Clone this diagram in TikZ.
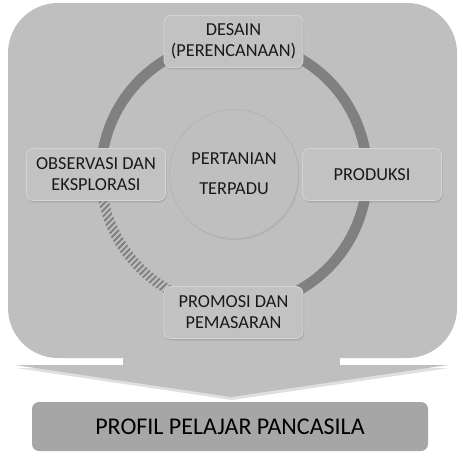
\documentclass[tikz,border=0pt]{standalone}
\usepackage{fontspec}
\setmainfont{Carlito}
\usepackage{tikz}
\usetikzlibrary{shapes,calc,shadows,patterns.meta}
\usepackage{xcolor}
\definecolor{panelgray}{HTML}{BFBFBF}
\definecolor{ringgray}{HTML}{808080}
\definecolor{boxgray}{HTML}{C2C2C2}
\definecolor{boxedge}{HTML}{D4D4D4}
\definecolor{bargray}{HTML}{A6A6A6}

\begin{document}
\begin{tikzpicture}[x=1pt,y=1pt,
	  every node/.style={align=center,text=black!90},
	  panel/.style={fill=panelgray,draw=none},
	  ring/.style={draw=ringgray,line width=10.5pt},
	  hatchring/.style={pattern={Lines[angle=45,distance=4.2pt,line width=1.9pt]},pattern color=ringgray},
	  stage/.style={rectangle,rounded corners=7pt,fill=boxgray,draw=boxedge,line width=0.8pt,
	    minimum width=139pt,minimum height=52pt,inner sep=2pt,font=\fontsize{18.3}{21}\selectfont,
	    drop shadow={shadow xshift=1pt,shadow yshift=-2pt,opacity=0.3}},
	  hub/.style={circle,fill=panelgray,draw=black!30,line width=0.6pt,minimum size=129pt,inner sep=0pt,
	    font=\fontsize{18.3}{30}\selectfont,
	    drop shadow={shadow xshift=1pt,shadow yshift=-1.5pt,opacity=0.2}},
	  result/.style={rectangle,rounded corners=7pt,fill=bargray,minimum width=396pt,minimum height=49pt,
	    text=black,font=\fontsize{24}{28}\selectfont}]

	  \useasboundingbox (0,0) rectangle (463,456);

	  % Background panel with the arrow underneath
	  \fill[panel,rounded corners=50pt] (8,98) rectangle (457,453);
	  \fill[panel] (123,99) rectangle (340,90);
	  \fill[panel,drop shadow={shadow xshift=1pt,shadow yshift=-3pt,opacity=0.25}] (15,91) -- (448,91) -- (231,59) -- cycle;

	  % Cycle around the hub
	  \coordinate (hubc) at (234,282);
	  \draw[ring] ([shift={(242:133)}]hubc) arc[start angle=242,end angle=550,radius=133];
	  \fill[hatchring] ([shift={(190:128)}]hubc) arc[start angle=190,end angle=242,radius=128]
	    -- ([shift={(242:138)}]hubc) arc[start angle=242,end angle=190,radius=138] -- cycle;

	  \node[hub] (hub) at (hubc) {PERTANIAN\\TERPADU};

	  \node[stage] (desain) at (233.5,414.5) {DESAIN\\(PERENCANAAN)};
	  \node[stage] (produksi) at (372,281.5) {PRODUKSI};
	  \node[stage] (promosi) at (233.5,143.5) {PROMOSI DAN\\PEMASARAN};
	  \node[stage] (observasi) at (96,281.5) {OBSERVASI DAN\\EKSPLORASI};

	  \node[result] (profil) at (230,29.5) {PROFIL PELAJAR PANCASILA};
\end{tikzpicture}
\end{document}
